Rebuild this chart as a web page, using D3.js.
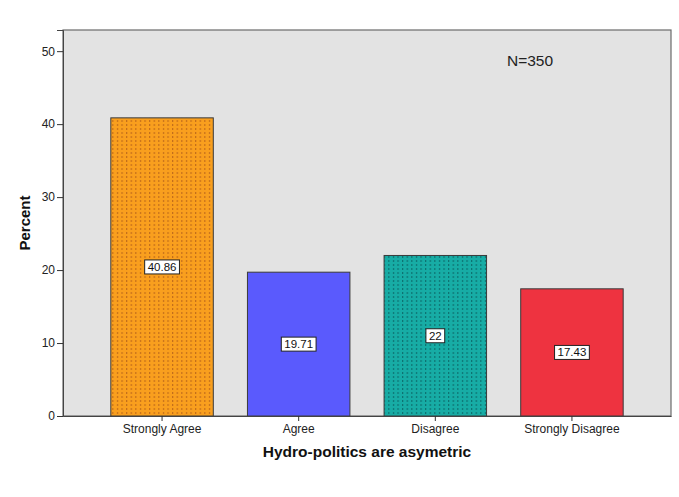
<!DOCTYPE html>
<html><head><meta charset="utf-8">
<script src="https://cdn.jsdelivr.net/npm/d3@7"></script>
<style>body{margin:0;background:#fff;}svg{display:block;}</style>
</head><body>
<script>
const categories = ["Strongly Agree", "Agree", "Disagree", "Strongly Disagree"];
const percents = [40.86, 19.71, 22, 17.43];
const labels = ["40.86", "19.71", "22", "17.43"];
const yTicks = [0, 10, 20, 30, 40, 50];
const baseColors = ["#F99F1E", "#5A5AFD", "#17ACA5", "#EE3340"];
const dotColors = ["#B9651A", null, "#0B6767", null];

const W = 679, H = 497;
const m = {left: 63, top: 30, right: 8, bottom: 81};
const svg = d3.select("body").append("svg").attr("width", W).attr("height", H);

const defs = svg.append("defs");
baseColors.forEach((c, i) => {
  if (!dotColors[i]) return;
  const p = defs.append("pattern").attr("id", "pat" + i)
    .attr("patternUnits", "userSpaceOnUse").attr("width", 4.6).attr("height", 4);
  p.append("rect").attr("width", 4.6).attr("height", 4).attr("fill", c);
  p.append("rect").attr("x", 2).attr("y", 0).attr("width", 1).attr("height", 2).attr("fill", dotColors[i]);
});

const x = d3.scaleBand().domain(categories).range([m.left, W - m.right])
  .paddingInner(0.25).paddingOuter(0.35);
const y = d3.scaleLinear().domain([0, 52.9]).range([H - m.bottom, m.top]);

// plot background
svg.append("rect").attr("x", m.left).attr("y", m.top)
  .attr("width", W - m.right - m.left).attr("height", H - m.bottom - m.top)
  .attr("fill", "#E3E3E3").attr("stroke", "#6b6b6b").attr("stroke-width", 1.2);

// bars
svg.selectAll("rect.bar").data(categories).enter().append("rect").attr("class", "bar")
  .attr("x", d => x(d)).attr("width", x.bandwidth())
  .attr("y", (d, i) => y(percents[i]))
  .attr("height", (d, i) => y(0) - y(percents[i]))
  .attr("fill", (d, i) => dotColors[i] ? "url(#pat" + i + ")" : baseColors[i])
  .attr("stroke", "#3a3a3a").attr("stroke-width", 1);

// value labels
const lab = svg.selectAll("g.lab").data(categories).enter().append("g").attr("class", "lab")
  .attr("transform", (d, i) => `translate(${x(d) + x.bandwidth() / 2},${y(percents[i] / 2)})`);
lab.append("text").text((d, i) => labels[i])
  .attr("text-anchor", "middle").attr("dy", "0.35em")
  .attr("font-family", "Arial, 'Liberation Sans', sans-serif").attr("font-size", 11.5).attr("fill", "#111");
lab.each(function () {
  const g = d3.select(this);
  const bb = g.select("text").node().getBBox();
  g.insert("rect", "text").attr("x", bb.x - 3).attr("y", bb.y - 1)
    .attr("width", bb.width + 6).attr("height", bb.height + 2)
    .attr("fill", "#fff").attr("stroke", "#222").attr("stroke-width", 1);
});

// y axis
const yAxis = svg.append("g").attr("transform", `translate(${m.left},0)`)
  .call(d3.axisLeft(y).tickValues(yTicks).tickSize(6).tickPadding(2));
yAxis.select(".domain").attr("stroke", "#444");
yAxis.selectAll(".tick line").attr("stroke", "#333");
yAxis.selectAll("text").attr("font-family", "Arial, 'Liberation Sans', sans-serif").attr("font-size", 12).attr("fill", "#222");

// x axis
const xAxis = svg.append("g").attr("transform", `translate(0,${H - m.bottom})`)
  .call(d3.axisBottom(x).tickSize(5).tickSizeOuter(0).tickPadding(3));
xAxis.select(".domain").attr("stroke", "#444");
xAxis.selectAll(".tick line").attr("stroke", "#333");
xAxis.selectAll("text").attr("font-family", "Arial, 'Liberation Sans', sans-serif").attr("font-size", 12).attr("fill", "#222");

// axis titles
svg.append("text").attr("x", (m.left + W - m.right) / 2).attr("y", 457)
  .attr("text-anchor", "middle").attr("font-family", "Arial, 'Liberation Sans', sans-serif")
  .attr("font-weight", "bold").attr("font-size", 15.5).attr("fill", "#111")
  .text("Hydro-politics are asymetric");
svg.append("text").attr("transform", `translate(30,${(m.top + H - m.bottom) / 2}) rotate(-90)`)
  .attr("text-anchor", "middle").attr("font-family", "Arial, 'Liberation Sans', sans-serif")
  .attr("font-weight", "bold").attr("font-size", 15).attr("fill", "#111")
  .text("Percent");

// N annotation
svg.append("text").attr("x", 507).attr("y", 66)
  .attr("font-family", "Arial, 'Liberation Sans', sans-serif").attr("font-size", 15.5).attr("fill", "#222")
  .text("N=350");
</script>
</body></html>
